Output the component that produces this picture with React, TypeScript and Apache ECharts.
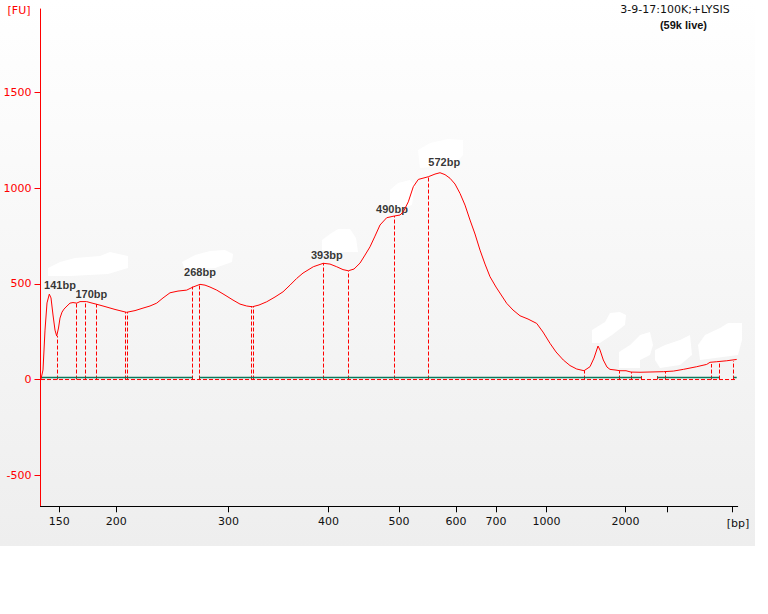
import { useEffect, useRef } from "react";
import * as echarts from "echarts";

// migration time (s) and fluorescence (FU)
const curveTime = [
  40.05, 40.25, 40.45, 40.65, 40.88, 41.05, 41.25, 41.45, 41.62, 41.8,
  41.95, 42.15, 42.35, 42.65, 42.95, 43.25, 43.62, 43.95, 44.62, 44.95,
  45.62, 46.45, 47.45, 48.6, 49.45, 50.25, 50.95, 51.62, 52.25, 52.95,
  53.75, 54.62, 55.25, 55.95, 56.45, 56.95, 57.62, 58.45, 59.25, 59.95,
  60.62, 61.18, 61.85, 62.62, 63.45, 64.25, 64.95, 65.62, 66.25, 67.28,
  68.28, 68.95, 69.62, 70.25, 70.78, 71.35, 71.95, 72.45, 72.95, 73.45,
  73.95, 74.62, 75.38, 75.95, 76.28, 76.78, 77.28, 77.78, 78.78, 79.45,
  79.95, 80.45, 80.95, 81.45, 81.95, 82.45, 82.95, 83.45, 83.95, 84.45,
  84.95, 85.55, 86.62, 87.25, 87.95, 88.75, 89.62, 90.25, 90.95, 91.55,
  92.28, 92.95, 93.62, 94.35, 94.95, 95.35, 95.75, 95.95, 96.28, 96.65,
  96.95, 97.45, 97.95, 98.55, 99.05, 99.95, 102.28, 103.28, 104.28, 105.62,
  106.62, 106.95, 107.62, 108.62, 109.62,
];
const curveFU = [
  3, 50, 258, 400, 446, 426, 337, 258, 227, 269,
  321, 352, 368, 384, 399, 402, 399, 407, 407, 402,
  393, 381, 366, 351, 360, 373, 384, 399, 426, 453,
  462, 467, 483, 497, 493, 483, 467, 441, 415, 394,
  384, 380, 389, 406, 431, 458, 493, 528, 556, 589,
  607, 603, 589, 574, 568, 577, 608, 650, 693, 749,
  807, 845, 854, 859, 876, 928, 1007, 1045, 1059, 1073,
  1080, 1070, 1051, 1021, 972, 911, 833, 760, 676, 603,
  537, 483, 398, 363, 333, 316, 293, 248, 189, 144,
  102, 73, 55, 46, 67, 112, 175, 154, 102, 65,
  53, 50, 46, 46, 39, 38, 41, 44, 53, 67,
  79, 90, 93, 98, 105,
];

// peak / region boundary markers
const markerTime = [
  41.68, 43.55, 44.48, 45.62, 48.48, 48.65, 55.22, 55.88, 61.05, 61.25,
  68.28, 70.78, 75.38, 78.78, 94.35, 97.88, 99.08, 100.08, 101.68, 102.48,
  107.08, 107.85, 109.32,
];
const markerFU = [
  227, 399, 405, 394, 352, 352, 485, 493, 384, 384,
  608, 567, 854, 1055, 47, 44, 39, 18, 18, 41,
  81, 91, 97,
];

const peakLabels = ["141bp", "170bp", "268bp", "393bp", "490bp", "572bp"];
const peakLabelTime = [41.95, 45.08, 55.95, 68.63, 75.15, 80.37];
const peakLabelFU = [496, 446, 564, 648, 890, 1136];

// baseline segments (green), broken at some markers
const baseStart = [40.05, 55.88, 101.68, 109.32];
const baseEnd = [55.22, 100.08, 107.85, 109.62];
const baseFU = 10;

const xTickTime = [41.88, 47.57, 58.79, 68.79, 75.85, 81.54, 85.55, 90.61, 98.5, 102.67, 109.14];
const xTickLabels = ["150", "200", "300", "400", "500", "600", "700", "1000", "2000", "", ""];
const yTicks = [-500, 0, 500, 1000, 1500];

const RED = "#ff0000";
const GREEN = "#0b7a5c";

const blobs: number[][][] = [
  [[48, 268], [60, 262], [75, 258], [100, 256], [110, 252], [128, 256], [128, 268], [108, 274], [70, 276], [48, 276]],
  [[182, 262], [195, 255], [210, 251], [225, 250], [233, 254], [232, 262], [215, 268], [185, 270]],
  [[322, 240], [330, 234], [338, 229], [350, 229], [356, 238], [358, 252], [330, 252], [322, 250]],
  [[390, 190], [398, 183], [410, 180], [415, 185], [412, 205], [395, 210], [390, 205]],
  [[418, 150], [430, 143], [448, 139], [463, 140], [463, 155], [455, 165], [420, 168]],
  [[592, 330], [605, 322], [610, 313], [620, 312], [626, 315], [625, 325], [612, 335], [600, 343], [592, 343]],
  [[619, 352], [630, 345], [640, 335], [650, 332], [653, 345], [650, 355], [640, 360], [640, 368], [619, 368]],
  [[655, 350], [665, 345], [680, 340], [690, 335], [692, 355], [680, 365], [660, 368], [655, 360]],
  [[698, 345], [705, 335], [720, 328], [728, 323], [742, 323], [742, 340], [738, 355], [700, 360]],
];

export default function App() {
  const chartRef = useRef<HTMLDivElement>(null);

  useEffect(() => {
    if (!chartRef.current) return;
    const chart = echarts.init(chartRef.current, undefined, { renderer: "svg" });

    const baseData: (number | null)[][] = [];
    baseStart.forEach((s, i) => {
      baseData.push([s, baseFU], [baseEnd[i], baseFU], [baseEnd[i], null]);
    });

    const tickLabel = (v: number) => {
      const i = xTickTime.findIndex((t) => Math.abs(t - v) < 0.01);
      return i >= 0 ? xTickLabels[i] : "";
    };

    chart.setOption({
      animation: false,
      grid: { left: 40.5, right: 30.3, top: 9, bottom: 107.7 },
      xAxis: {
        type: "value",
        min: 40,
        max: 109.72,
        axisLine: { show: true, onZero: false, lineStyle: { color: "#000", width: 1 } },
        axisTick: { show: true, length: 6, customValues: xTickTime, lineStyle: { color: "#000" } },
        axisLabel: {
          customValues: xTickTime,
          formatter: tickLabel,
          color: "#111",
          fontFamily: "DejaVu Sans",
          fontSize: 11,
          margin: 10,
        },
        splitLine: { show: false },
      },
      yAxis: {
        type: "value",
        min: -662,
        max: 1935,
        axisLine: { show: true, onZero: false, lineStyle: { color: RED, width: 1 } },
        axisTick: { show: true, length: 6, customValues: yTicks, lineStyle: { color: RED } },
        axisLabel: {
          customValues: yTicks,
          formatter: (v: number) => String(v),
          color: RED,
          fontFamily: "DejaVu Sans",
          fontSize: 11,
          margin: 9,
        },
        splitLine: { show: false },
      },
      graphic: [
        ...blobs.map((pts) => ({
          type: "polygon",
          silent: true,
          z: 1,
          shape: { points: pts },
          style: { fill: "#ffffff" },
        })),
        {
          type: "text",
          x: 19,
          y: 10,
          style: { text: "[FU]", fill: RED, font: "11px 'DejaVu Sans'", textAlign: "center", textVerticalAlign: "middle" },
        },
        {
          type: "text",
          x: 738,
          y: 523,
          style: { text: "[bp]", fill: "#111", font: "11px 'DejaVu Sans'", textAlign: "center", textVerticalAlign: "middle" },
        },
        {
          type: "text",
          x: 675,
          y: 9,
          style: { text: "3-9-17:100K;+LYSIS", fill: "#111", font: "11px 'DejaVu Sans'", textAlign: "center", textVerticalAlign: "middle" },
        },
        {
          type: "text",
          x: 683.5,
          y: 24.5,
          style: { text: "(59k live)", fill: "#111", font: "bold 11px 'Liberation Sans'", textAlign: "center", textVerticalAlign: "middle" },
        },
      ],
      series: [
        {
          type: "line",
          data: [[curveTime[0], 0], [curveTime[curveTime.length - 1], 0]],
          symbol: "none",
          lineStyle: { color: RED, width: 1, type: [4, 2] },
          silent: true,
        },
        {
          // dashed boundary markers, snapped to pixel centres for a crisp 1px line
          type: "custom",
          silent: true,
          data: markerTime.map((t, i) => [t, markerFU[i]]),
          renderItem: (_p: unknown, api: any) => {
            const top = api.coord([api.value(0), api.value(1)]);
            const bot = api.coord([api.value(0), 0]);
            const x = Math.round(top[0] - 0.5) + 0.5;
            return {
              type: "line",
              shape: { x1: x, y1: bot[1], x2: x, y2: top[1] },
              style: { stroke: RED, lineWidth: 1, lineDash: [4, 2] },
            };
          },
        },
        {
          type: "line",
          data: baseData,
          symbol: "none",
          connectNulls: false,
          lineStyle: { color: GREEN, width: 1.5 },
          silent: true,
        },
        {
          type: "line",
          data: curveTime.map((t, i) => [t, curveFU[i]]),
          symbol: "none",
          lineStyle: { color: RED, width: 1 },
          silent: true,
        },
        {
          type: "scatter",
          data: peakLabelTime.map((t, i) => [t, peakLabelFU[i]]),
          symbolSize: 1,
          itemStyle: { color: "rgba(0,0,0,0)" },
          silent: true,
          label: {
            show: true,
            position: "inside",
            formatter: (p: { dataIndex: number }) => peakLabels[p.dataIndex],
            color: "#000",
            fontFamily: "Liberation Sans",
            fontWeight: "bold",
            fontSize: 11,
          },
        },
      ],
    });

    return () => {
      chart.dispose();
    };
  }, []);

  return (
    <div
      ref={chartRef}
      style={{
        position: "absolute",
        left: 0,
        top: 0,
        width: 768,
        height: 614,
        background: "linear-gradient(#ffffff, #eeeeee) 0 0 / 755px 546px no-repeat, #ffffff",
      }}
    />
  );
}
